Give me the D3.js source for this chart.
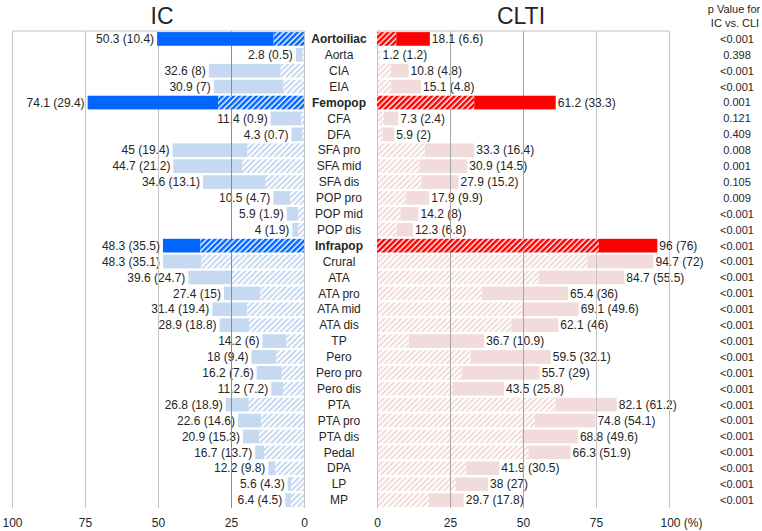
<!DOCTYPE html>
<html>
  <head>
    <meta charset="UTF-8">
    <title>IC vs CLTI</title>
    <script src="https://cdn.jsdelivr.net/npm/d3@7"></script>
    <style>
      body { margin: 0; background: #fff; }
      text { font-family: "Liberation Sans Narrow", "Liberation Sans", sans-serif; fill: #262626; }
    </style>
  </head>
  <body>
    <svg width="762" height="531"></svg>
    <script>
      var categories = ["Aortoiliac","Aorta","CIA","EIA","Femopop","CFA","DFA","SFA pro","SFA mid","SFA dis",
        "POP pro","POP mid","POP dis","Infrapop","Crural","ATA","ATA pro","ATA mid","ATA dis","TP",
        "Pero","Pero pro","Pero dis","PTA","PTA pro","PTA dis","Pedal","DPA","LP","MP"];
      var mainRows = ["Aortoiliac","Femopop","Infrapop"];
      var icTotal = [50.3,2.8,32.6,30.9,74.1,11.4,4.3,45,44.7,34.6,10.5,5.9,4,48.3,48.3,39.6,27.4,31.4,28.9,14.2,
        18,16.2,11.2,26.8,22.6,20.9,16.7,12.2,5.6,6.4];
      var icSub = [10.4,0.5,8,7,29.4,0.9,0.7,19.4,21.2,13.1,4.7,1.9,1.9,35.5,35.1,24.7,15,19.4,18.8,6,
        9.4,7.6,7.2,18.9,14.6,15.3,13.7,9.8,4.3,4.5];
      var cltiTotal = [18.1,1.2,10.8,15.1,61.2,7.3,5.9,33.3,30.9,27.9,17.9,14.2,12.3,96,94.7,84.7,65.4,69.1,62.1,36.7,
        59.5,55.7,43.5,82.1,74.8,68.8,66.3,41.9,38,29.7];
      var cltiSub = [6.6,1.2,4.8,4.8,33.3,2.4,2,16.4,14.5,15.2,9.9,8,6.8,76,72,55.5,36,49.6,46,10.9,
        32.1,29,25.8,61.2,54.1,49.6,51.9,30.5,27,17.8];
      var pValues = ["<0.001","0.398","<0.001","<0.001","0.001","0.121","0.409","0.008","0.001","0.105",
        "0.009","<0.001","<0.001","<0.001","<0.001","<0.001","<0.001","<0.001","<0.001","<0.001",
        "<0.001","<0.001","<0.001","<0.001","<0.001","<0.001","<0.001","<0.001","<0.001","<0.001"];
      var tickValues = [0,25,50,75,100];

      var svg = d3.select("svg");
      var top0 = 31, bottom0 = 508;

      var yScale = d3.scaleBand()
        .domain(categories)
        .range([top0, bottom0])
        .paddingInner(0.14)
        .paddingOuter(0.07);
      var xLeft = d3.scaleLinear().domain([0,100]).range([304,12]);
      var xRight = d3.scaleLinear().domain([0,100]).range([377,669]);

      function isMain(c){ return mainRows.indexOf(c) >= 0; }

      // hatch patterns
      var defs = svg.append("defs");
      function hatch(id, color, w){
        var p = defs.append("pattern")
          .attr("id", id)
          .attr("patternUnits","userSpaceOnUse")
          .attr("width",4).attr("height",4)
          .attr("patternTransform","rotate(45)");
        p.append("rect").attr("width",4).attr("height",4).attr("fill","#fff");
        p.append("rect").attr("width",w).attr("height",4).attr("fill",color);
      }
      hatch("hBlue","#0066ff",2.6);
      hatch("hBlueL","#c6d9f1",2);
      hatch("hRed","#ff0000",2.6);
      hatch("hRedL","#f2dcdb",2);

      var rows = categories.map(function(c,i){
        return {cat:c, main:isMain(c), icT:icTotal[i], icS:icSub[i], clT:cltiTotal[i], clS:cltiSub[i], p:pValues[i]};
      });

      var gs = svg.selectAll(".row")
        .data(rows)
        .enter()
        .append("g")
        .attr("class","row");

      // IC bars (left): hatched part near 0, solid part outward
      gs.append("rect")
        .attr("x", function(d){ return xLeft(d.icT); })
        .attr("y", function(d){ return yScale(d.cat); })
        .attr("width", function(d){ return xLeft(d.icS) - xLeft(d.icT); })
        .attr("height", yScale.bandwidth())
        .attr("fill", function(d){ return d.main ? "#0066ff" : "#c6d9f1"; });
      gs.append("rect")
        .attr("x", function(d){ return xLeft(d.icS); })
        .attr("y", function(d){ return yScale(d.cat); })
        .attr("width", function(d){ return xLeft(0) - xLeft(d.icS); })
        .attr("height", yScale.bandwidth())
        .attr("fill", function(d){ return d.main ? "url(#hBlue)" : "url(#hBlueL)"; });

      // CLTI bars (right)
      gs.append("rect")
        .attr("x", xRight(0))
        .attr("y", function(d){ return yScale(d.cat); })
        .attr("width", function(d){ return xRight(d.clS) - xRight(0); })
        .attr("height", yScale.bandwidth())
        .attr("fill", function(d){ return d.main ? "url(#hRed)" : "url(#hRedL)"; });
      gs.append("rect")
        .attr("x", function(d){ return xRight(d.clS); })
        .attr("y", function(d){ return yScale(d.cat); })
        .attr("width", function(d){ return xRight(d.clT) - xRight(d.clS); })
        .attr("height", yScale.bandwidth())
        .attr("fill", function(d){ return d.main ? "#ff0000" : "#f2dcdb"; });

      // value labels
      gs.append("text")
        .attr("x", function(d){ return xLeft(d.icT) - 3; })
        .attr("y", function(d){ return yScale(d.cat) + yScale.bandwidth()/2; })
        .attr("dy","0.35em")
        .attr("text-anchor","end")
        .attr("font-size","12px")
        .text(function(d){ return d.icT + " (" + d.icS + ")"; });
      gs.append("text")
        .attr("x", function(d){ return xRight(d.clT) + 2; })
        .attr("y", function(d){ return yScale(d.cat) + yScale.bandwidth()/2; })
        .attr("dy","0.35em")
        .attr("font-size","12px")
        .text(function(d){ return d.clT + " (" + d.clS + ")"; });

      // category names
      gs.append("text")
        .attr("x", 339)
        .attr("y", function(d){ return yScale(d.cat) + yScale.bandwidth()/2; })
        .attr("dy","0.35em")
        .attr("text-anchor","middle")
        .attr("font-size","12px")
        .attr("font-weight", function(d){ return d.main ? "bold" : "normal"; })
        .text(function(d){ return d.cat; });

      // p values
      gs.append("text")
        .attr("x", 737)
        .attr("y", function(d){ return yScale(d.cat) + yScale.bandwidth()/2; })
        .attr("dy","0.35em")
        .attr("text-anchor","middle")
        .attr("font-size","11px")
        .text(function(d){ return d.p; });

      // axes with gridlines (drawn over the light bars)
      function gridColor(side, v){
        if (side == "L") return v == 25 ? "#8c8c8c" : "#c4c4c4";
        return (v == 25 || v == 50) ? "#a6a6a6" : "#c4c4c4";
      }
      var axL = svg.append("g")
        .attr("transform","translate(0,"+bottom0+")")
        .call(d3.axisBottom(xLeft).tickValues(tickValues).tickSize(-(bottom0-top0)).tickFormat(d3.format("d")));
      var axR = svg.append("g")
        .attr("transform","translate(0,"+bottom0+")")
        .call(d3.axisBottom(xRight).tickValues(tickValues).tickSize(-(bottom0-top0))
          .tickFormat(function(d){ return d == 100 ? "100 (%)" : d; }));
      [axL, axR].forEach(function(ax, k){
        ax.select(".domain").remove();
        ax.selectAll(".tick line").attr("stroke", function(d){ return gridColor(k==0?"L":"R", d); });
        ax.selectAll(".tick text")
          .attr("y",10).attr("dy","0.71em")
          .attr("font-size","12px")
          .attr("fill","#262626")
          .attr("font-family","Liberation Sans Narrow");
      });
      axR.selectAll(".tick text").filter(function(d){ return d == 100; })
        .attr("text-anchor","start").attr("dx",-9);

      // top border lines
      svg.append("line").attr("x1",xLeft(100)).attr("x2",xLeft(0)).attr("y1",top0).attr("y2",top0).attr("stroke","#c4c4c4");
      svg.append("line").attr("x1",xRight(0)).attr("x2",xRight(100)).attr("y1",top0).attr("y2",top0).attr("stroke","#c4c4c4");

      // summary rows stay on top of the grid
      gs.filter(function(d){ return d.main; }).raise();

      // titles
      svg.append("text").attr("x",162).attr("y",24).attr("text-anchor","middle")
        .attr("font-size","23px").attr("font-family","Liberation Sans Narrow").text("IC");
      svg.append("text").attr("x",521).attr("y",24).attr("text-anchor","middle")
        .attr("font-size","23px").attr("font-family","Liberation Sans Narrow").text("CLTI");
      svg.append("text").attr("x",734).attr("y",13).attr("text-anchor","middle")
        .attr("font-size","11px").text("p Value for");
      svg.append("text").attr("x",735).attr("y",27).attr("text-anchor","middle")
        .attr("font-size","11px").text("IC vs. CLI");
    </script>
  </body>
</html>
